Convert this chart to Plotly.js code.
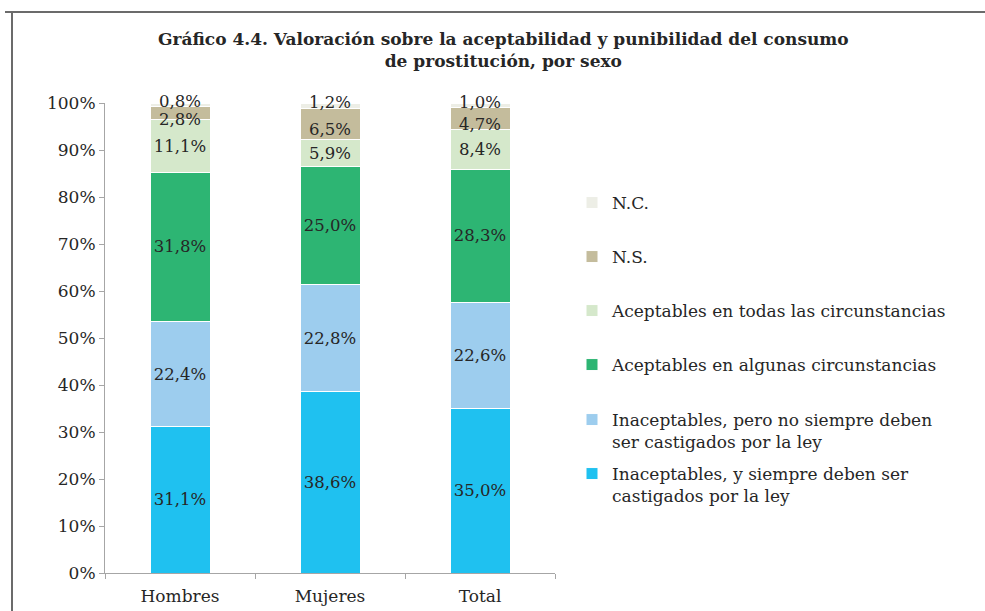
<!DOCTYPE html>
<html>
<head>
<meta charset="utf-8">
<script src="https://cdn.plot.ly/plotly-3.0.1.min.js"></script>
<style>html,body{margin:0;padding:0;background:#fff;}#chart{width:985px;height:611px;}</style>
</head>
<body>
<div id="chart"></div>
<script>
// Data
var categories = ['Hombres', 'Mujeres', 'Total'];
var seriesNames = [
  'Inaceptables, y siempre deben ser<br>castigados por la ley',
  'Inaceptables, pero no siempre deben<br>ser castigados por la ley',
  'Aceptables en algunas circunstancias',
  'Aceptables en todas las circunstancias',
  'N.S.',
  'N.C.'
];
var inaceptablesSiempre = [31.1, 38.6, 35.0];
var inaceptablesNoSiempre = [22.4, 22.8, 22.6];
var aceptablesAlgunas = [31.8, 25.0, 28.3];
var aceptablesTodas = [11.1, 5.9, 8.4];
var noSabe = [2.8, 6.5, 4.7];
var noContesta = [0.8, 1.2, 1.0];
var yTickVals = [0, 10, 20, 30, 40, 50, 60, 70, 80, 90, 100];
var yTickText = ['0%', '10%', '20%', '30%', '40%', '50%', '60%', '70%', '80%', '90%', '100%'];

var seriesValues = [inaceptablesSiempre, inaceptablesNoSiempre, aceptablesAlgunas, aceptablesTodas, noSabe, noContesta];
var colors = ['#1FC1F0', '#9DCDEE', '#2DB573', '#D5E8CB', '#C4BC9C', '#EDEEE6'];

var FONT = 'DejaVu Serif, Georgia, serif';
var TXT = '#262626';
var LABEL_SIZE = 16.5;

// one legend box per series (top entry = N.C.)
var legendNames = ['legend7', 'legend6', 'legend5', 'legend4', 'legend3', 'legend2'];
var legendTops = [456, 402, 347, 293, 239, 185];

// thin top segments get their labels as annotations (they overlap the bar edges, as in the original)
var annotatedSeries = {4: 6, 5: -3}; // series index -> vertical nudge in px

var traces = seriesValues.map(function (vals, i) {
  var useAnn = annotatedSeries.hasOwnProperty(i);
  return {
    type: 'bar',
    name: seriesNames[i],
    x: categories,
    y: vals,
    width: 0.4,
    marker: {color: colors[i], line: {color: '#ffffff', width: 1}},
    texttemplate: useAnn ? '' : '%{y:.1f}%',
    textposition: useAnn ? 'none' : 'inside',
    insidetextanchor: 'middle',
    textangle: 0,
    textfont: {family: FONT, size: LABEL_SIZE, color: TXT},
    hoverinfo: 'skip',
    legend: legendNames[i]
  };
});

var annotations = [];
categories.forEach(function (cat, c) {
  var base = 0;
  seriesValues.forEach(function (vals, i) {
    var v = vals[c];
    if (annotatedSeries.hasOwnProperty(i)) {
      annotations.push({
        x: cat, y: base + v / 2, xref: 'x', yref: 'y',
        text: v.toFixed(1).replace('.', ',') + '%',
        showarrow: false, yanchor: 'middle', xanchor: 'center',
        yshift: -annotatedSeries[i],
        font: {family: FONT, size: LABEL_SIZE, color: TXT}
      });
    }
    base += v;
  });
});

var layout = {
  width: 985, height: 611,
  paper_bgcolor: '#ffffff', plot_bgcolor: '#ffffff',
  separators: ',.',
  barmode: 'stack',
  margin: {l: 105, r: 430, t: 103, b: 38},
  font: {family: FONT, size: 17, color: TXT},
  title: {
    text: '<b>Gráfico 4.4. Valoración sobre la aceptabilidad y punibilidad del consumo<br>de prostitución, por sexo</b>',
    font: {family: FONT, size: 17, color: TXT},
    xref: 'container', yref: 'container',
    x: 0.511, xanchor: 'center',
    y: 1 - 45 / 611, yanchor: 'top'
  },
  xaxis: {
    type: 'category',
    showline: true, linecolor: '#A6A6A6', linewidth: 1,
    ticks: 'outside', tickson: 'boundaries', ticklen: 5, tickcolor: '#A6A6A6',
    showgrid: false, zeroline: false,
    ticklabelstandoff: 8,
    tickfont: {family: FONT, size: 17, color: TXT}
  },
  yaxis: {
    range: [0, 100],
    tickmode: 'array',
    tickvals: yTickVals,
    ticktext: yTickText,
    showline: true, linecolor: '#A6A6A6', linewidth: 1,
    ticks: 'outside', ticklen: 5, tickcolor: '#A6A6A6',
    showgrid: false, zeroline: false,
    tickfont: {family: FONT, size: 17, color: TXT}
  },
  uniformtext: {mode: 'show', minsize: LABEL_SIZE},
  annotations: annotations,
  shapes: [
    {type: 'line', xref: 'paper', yref: 'paper',
     x0: (5 - 105) / 450, x1: (985 - 105) / 450, y0: (573 - 12) / 470, y1: (573 - 12) / 470,
     line: {color: '#6B6B6B', width: 2}},
    {type: 'line', xref: 'paper', yref: 'paper',
     x0: (12 - 105) / 450, x1: (12 - 105) / 450, y0: (573 - 12) / 470, y1: (573 - 615) / 470,
     line: {color: '#6B6B6B', width: 2}}
  ]
};

legendNames.forEach(function (ln, i) {
  layout[ln] = {
    xref: 'container', yref: 'container',
    x: 572 / 985, xanchor: 'left',
    y: 1 - legendTops[i] / 611, yanchor: 'top',
    font: {family: FONT, size: 17, color: TXT},
    valign: 'top',
    bgcolor: 'rgba(0,0,0,0)',
    borderwidth: 0
  };
});

Plotly.newPlot('chart', traces, layout, {displayModeBar: false, staticPlot: true});
</script>
</body>
</html>
